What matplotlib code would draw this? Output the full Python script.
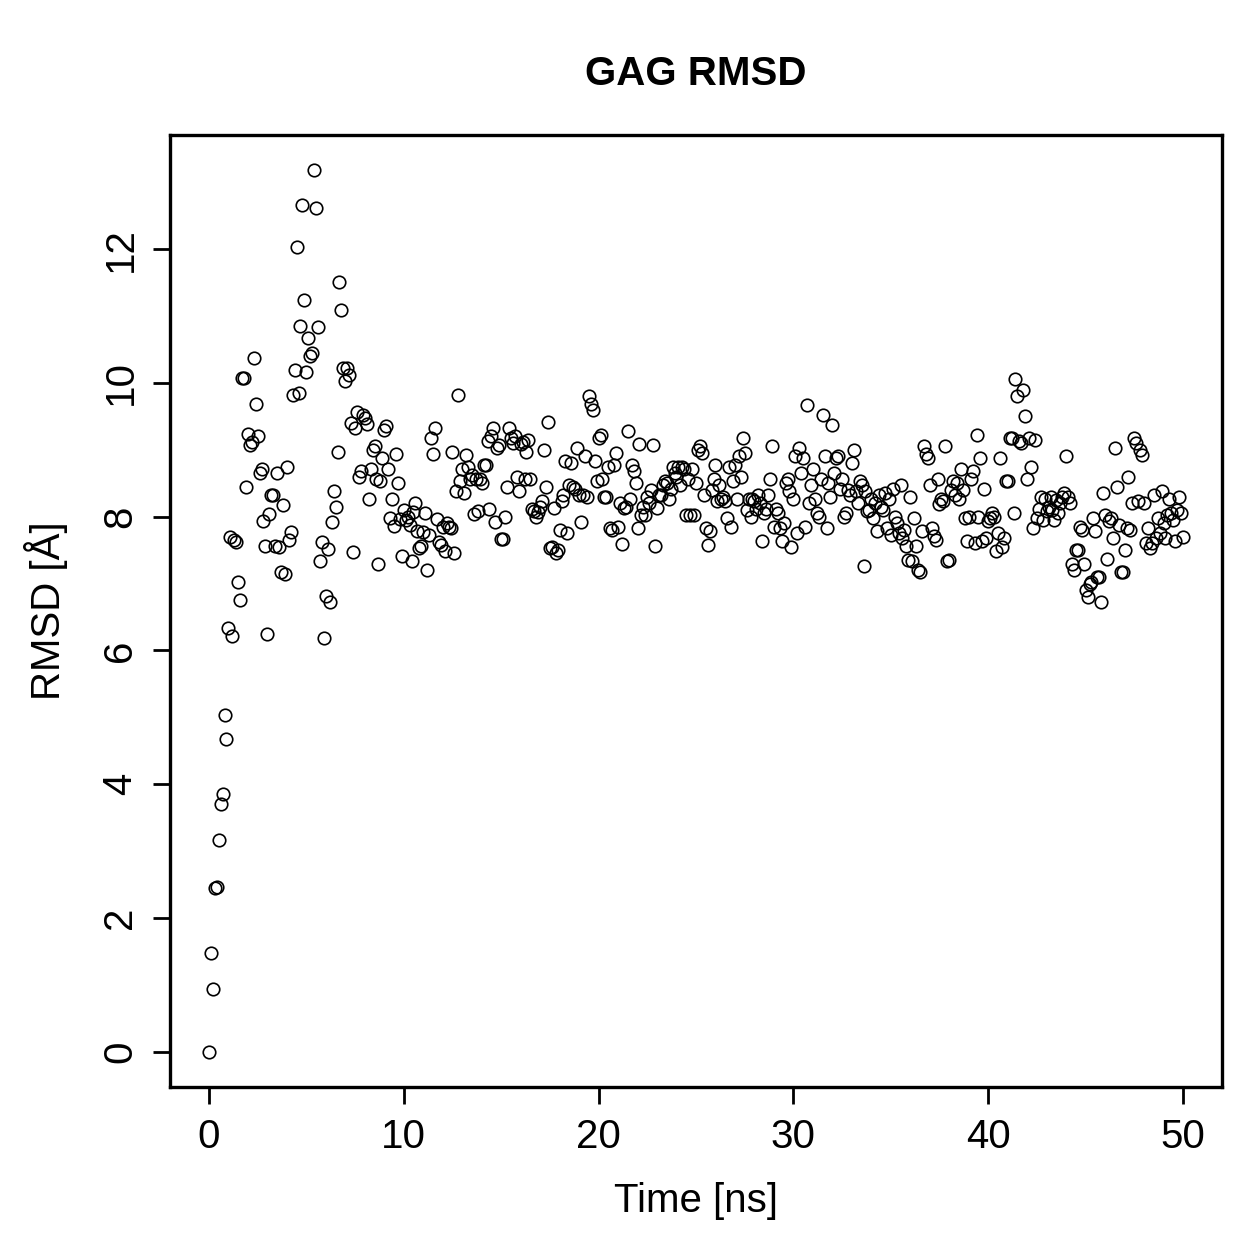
import numpy as np
import matplotlib
matplotlib.use("Agg")
import matplotlib.pyplot as plt

# RMSD values, one sample every 0.1 ns
rmsd_0_10 = [0.00, 1.47, 0.94, 2.45, 2.47, 3.17, 3.70, 3.85, 5.04, 4.68, 6.34,
             7.69, 6.21, 7.65, 7.62, 7.03, 6.76, 10.08, 10.08, 8.44, 9.23,
             9.07, 9.11, 10.37, 9.68, 9.20, 8.65, 8.71, 7.93, 7.56, 6.25,
             8.04, 8.32, 8.32, 7.56, 8.66, 7.54, 7.17, 8.17, 7.14, 8.75,
             7.65, 7.77, 9.82, 10.19, 12.03, 9.85, 10.85, 12.66, 11.24, 10.17,
             10.67, 10.40, 10.44, 13.18, 12.61, 10.83, 7.33, 7.62, 6.18, 6.81,
             7.51, 6.73, 7.92, 8.38, 8.15, 8.96, 11.51, 11.09, 10.22, 10.03,
             10.22, 10.12, 9.40, 7.47, 9.32, 9.56, 8.60, 8.69, 9.52, 9.47,
             9.38, 8.27, 8.72, 8.99, 9.05, 8.57, 7.30, 8.53, 8.87, 9.29,
             9.35, 8.71, 7.98, 8.27, 7.86, 8.93, 8.51, 7.96, 7.41, 8.10]

rmsd_10_39 = [7.95, 8.00, 7.87, 7.33, 8.07, 8.20, 7.78, 7.53, 7.56, 7.77, 8.05,
              7.21, 7.72, 9.17, 8.93, 9.32, 7.96, 7.62, 7.57, 7.84, 7.48, 7.90,
              7.85, 7.83, 8.96, 7.45, 8.38, 9.82, 8.54, 8.72, 8.36, 8.92,
              8.74, 8.57, 8.63, 8.04, 8.56, 8.08, 8.57, 8.51, 8.78, 8.77,
              9.13, 8.11, 9.20, 9.32, 7.92, 9.02, 9.07, 7.66, 7.66, 8.00, 8.45,
              9.32, 9.17, 9.10, 9.20, 8.60, 8.38, 9.08, 9.11, 8.57, 8.96,
              9.14, 8.57, 8.12, 8.08, 8.00, 8.07, 8.15, 8.24, 8.99, 8.45,
              9.42, 7.53, 7.54, 8.13, 7.45, 7.50, 7.80, 8.24, 8.32, 8.83,
              7.75, 8.48, 8.81, 8.45, 8.42, 9.02, 8.33, 7.92, 8.32, 8.90, 8.30,
              9.80, 9.68, 9.59, 8.84, 8.53, 9.17, 9.22, 8.57, 8.30, 8.29,
              8.75, 7.83, 7.80, 8.78, 8.95, 7.85, 8.21, 7.59, 8.13, 8.15,
              9.28, 8.27, 8.78, 8.69, 8.50, 7.83, 9.08, 8.02, 8.15, 8.02,
              8.30, 8.21, 8.40, 9.07, 7.56, 8.13, 8.32, 8.33, 8.47, 8.54,
              8.51, 8.27, 8.42, 8.75, 8.65, 8.60, 8.75, 8.47, 8.75, 8.72,
              8.02, 8.57, 8.02, 8.72, 8.02, 8.50, 8.99, 9.05, 8.95, 8.32,
              7.83, 7.57, 7.78, 8.40, 8.57, 8.77, 8.23, 8.47, 8.27, 8.29,
              8.23, 7.98, 8.75, 7.85, 8.54, 8.77, 8.27, 8.90, 8.60, 9.17,
              8.95, 8.10, 8.27, 7.99, 8.27, 8.23, 8.12, 8.32, 8.20, 7.63,
              8.05, 8.12, 8.32, 8.56, 9.05, 7.85, 8.12, 8.05, 7.83, 7.63,
              7.90, 8.50, 8.57, 8.38, 7.55, 8.27, 8.90, 7.75, 9.02, 8.65,
              8.87, 7.85, 9.67, 8.20, 8.47, 8.72, 8.27, 8.05, 8.00, 8.57,
              9.52, 8.90, 7.83, 8.50, 8.29, 9.37, 8.65, 8.87, 8.90, 8.42,
              8.57, 8.00, 8.05, 8.40, 8.32, 8.81, 9.00, 8.38, 8.21, 8.53,
              8.47, 7.26, 8.38, 8.08, 8.10, 8.27, 7.98, 8.20, 7.78, 8.32,
              8.15, 8.10, 8.35, 7.83, 8.27, 7.72, 8.42, 8.00, 7.90, 7.75,
              8.48, 7.68, 7.80, 7.56, 7.35, 8.30, 7.33, 7.98, 7.56, 7.20,
              7.18, 7.78, 9.05, 8.93, 8.87, 8.47, 7.83, 7.71, 7.65, 8.57,
              8.19, 8.27, 8.23, 9.05, 7.33, 7.35, 8.40, 8.54, 8.32, 8.50,
              8.27, 8.72, 8.40, 7.98, 7.63, 8.00, 8.57, 8.68, 7.60, 9.22]

rmsd_39_50 = [8.00, 8.87, 7.63, 8.42, 7.68, 7.93, 7.98, 8.05, 8.00, 7.48, 7.75,
              8.87, 7.55, 7.68, 8.53, 8.53,
              9.17, 9.17, 8.05, 10.06, 9.80, 9.13, 9.10, 9.89, 9.50, 8.56, 9.17,
              8.75, 7.83, 9.14, 7.98, 8.12, 8.30, 7.95, 8.27, 8.08,
              8.15, 8.30, 8.10, 7.95, 8.25, 8.05, 8.20, 8.30, 8.35, 8.90, 8.30,
              8.20, 7.30, 7.20, 7.50, 7.50, 7.85, 7.80, 7.30, 6.90, 6.80, 7.00,
              7.03, 7.98, 7.78, 7.10, 7.10, 6.72, 8.36, 8.02, 7.36, 7.93,
              7.98, 7.68, 9.02, 8.45, 7.87, 7.17, 7.18, 7.50, 7.83, 8.60,
              7.80, 8.20, 9.17, 9.10, 8.24, 8.99, 8.92, 8.20, 7.60, 7.83,
              7.53, 7.60, 8.33, 7.68, 7.98, 7.75, 8.38, 7.90, 7.68, 8.02,
              8.27, 8.05, 7.95, 7.63, 8.10, 8.30, 8.05, 7.70]

rmsd = np.array(rmsd_0_10 + rmsd_10_39 + rmsd_39_50)
time_ns = np.arange(len(rmsd)) * 0.1

x_ticks = [0, 10, 20, 30, 40, 50]
y_ticks = [0, 2, 4, 6, 8, 10, 12]

plt.rcParams["font.family"] = ["Liberation Sans", "DejaVu Sans"]

fig = plt.figure(figsize=(12.59, 12.59), dpi=100)
ax = fig.add_axes([0.135, 0.1366, 0.8356, 0.7562])

ax.plot(time_ns, rmsd, linestyle="none", marker="o", markersize=9.0,
        markerfacecolor="none", markeredgecolor="black", markeredgewidth=1.2)

# R style 4% padding on both axes
xr = time_ns.max() - time_ns.min()
yr = rmsd.max() - rmsd.min()
ax.set_xlim(time_ns.min() - 0.04 * xr, time_ns.max() + 0.04 * xr)
ax.set_ylim(rmsd.min() - 0.04 * yr, rmsd.max() + 0.04 * yr)

ax.set_xticks(x_ticks)
ax.set_yticks(y_ticks)
ax.tick_params(length=12, width=2.0, labelsize=29, pad=10)
ax.tick_params(axis="y", labelrotation=90)
for lab in ax.get_yticklabels():
    lab.set_verticalalignment("center")
for s in ax.spines.values():
    s.set_linewidth(2.4)

ax.set_title("GAG RMSD", fontsize=29, fontweight="bold", pad=36)
ax.set_xlabel("Time [ns]", fontsize=29)
ax.set_ylabel("RMSD [Å]", fontsize=29)
ax.xaxis.set_label_coords(0.5, -0.1)
ax.yaxis.set_label_coords(-0.097, 0.5)

fig.savefig("out.png", dpi=100)
